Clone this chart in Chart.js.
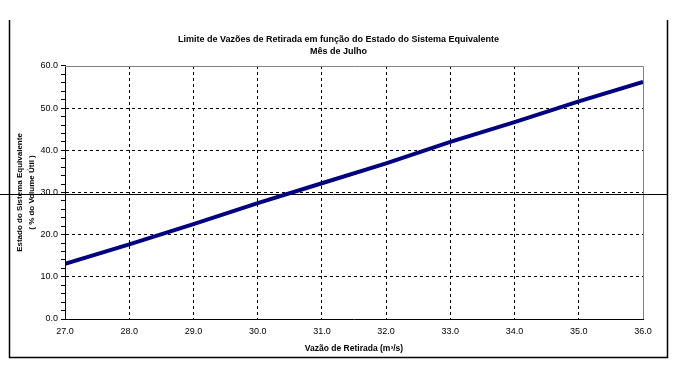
<!DOCTYPE html>
<html>
<head>
<meta charset="utf-8">
<script src="https://cdn.jsdelivr.net/npm/chart.js@4/dist/chart.umd.min.js"></script>
<style>
  html, body { margin: 0; padding: 0; background: #fff; }
  #chart { display: block; }
</style>
</head>
<body>
<canvas id="chart" width="677" height="377"></canvas>
<script>
// Data
const vazao = [27, 28, 29, 30, 31, 32, 33, 34, 35, 36];           // m3/s
const estado = [13.1, 17.7, 22.5, 27.5, 32.2, 36.9, 42.0, 46.7, 51.6, 56.2]; // % volume util
const xMin = 27, xMax = 36, xStep = 1;
const yMin = 0, yMax = 60, yMajor = 10, yMinor = 2;
const refLevel = 29.6; // horizontal black line across the sheet

const titleLines = ['Limite de Vazões de Retirada em função do Estado do Sistema Equivalente', 'Mês de Julho'];
const xTitle = 'Vazão de Retirada (m³/s)';
const yTitle = ['Estado do Sistema Equivalente', '( % do Volume Útil )'];

const FONT = "'Liberation Sans', Arial, sans-serif";

// frame, plot border and the reference line
const decor = {
  id: 'decor',
  beforeDatasetsDraw(chart) {
    const {ctx, chartArea: a, scales} = chart;
    ctx.save();
    ctx.lineWidth = 1;
    ctx.strokeStyle = '#808080';
    ctx.beginPath();
    ctx.moveTo(a.left, a.top + 0.5);
    ctx.lineTo(a.right + 0.5, a.top + 0.5);
    ctx.lineTo(a.right + 0.5, a.bottom);
    ctx.stroke();

    const yRef = Math.round(scales.y.getPixelForValue(refLevel)) + 0.5;
    ctx.strokeStyle = '#000';
    ctx.beginPath();
    ctx.moveTo(0, yRef);
    ctx.lineTo(667, yRef);
    ctx.stroke();
    ctx.restore();
  },
  afterDraw(chart) {
    const {ctx} = chart;
    ctx.save();
    ctx.strokeStyle = '#000';
    ctx.lineWidth = 1.5;
    ctx.beginPath();
    ctx.moveTo(9.5, 20);
    ctx.lineTo(9.5, 357.5);
    ctx.lineTo(667.5, 357.5);
    ctx.lineTo(667.5, 20);
    ctx.stroke();
    ctx.restore();
  }
};

new Chart(document.getElementById('chart'), {
  type: 'line',
  data: {
    datasets: [{
      data: vazao.map((v, i) => ({x: v, y: estado[i]})),
      borderColor: '#000080',
      borderWidth: 4,
      pointRadius: 0,
      tension: 0
    }]
  },
  options: {
    responsive: false,
    animation: false,
    events: [],
    layout: { padding: 0 },
    plugins: {
      legend: { display: false },
      tooltip: { enabled: false },
      title: {
        display: true,
        text: titleLines,
        color: '#000',
        font: { family: FONT, size: 9, weight: 'bold', lineHeight: 1.333 },
        padding: { top: 34, bottom: 8 }
      }
    },
    scales: {
      x: {
        type: 'linear',
        min: xMin, max: xMax,
        afterFit: s => { s.height = 58; },
        ticks: {
          stepSize: xStep,
          color: '#000',
          padding: 7,
          maxRotation: 0,
          autoSkip: false,
          font: { family: FONT, size: 9 },
          callback: v => v.toFixed(1)
        },
        grid: {
          drawTicks: false,
          color: c => (c.tick && (c.tick.value === xMin || c.tick.value === xMax)) ? 'rgba(0,0,0,0)' : '#000',
          lineWidth: 1
        },
        border: { display: true, color: '#000', width: 1, dash: [3, 3] },
        title: {
          display: true,
          text: xTitle,
          color: '#000',
          font: { family: FONT, size: 8.5, weight: 'bold', lineHeight: 1.2 },
          padding: { top: 0, bottom: 23 }
        }
      },
      y: {
        type: 'linear',
        min: yMin, max: yMax,
        afterFit: s => { s.width = 65; },
        ticks: {
          stepSize: yMinor,
          color: '#000',
          padding: 3,
          autoSkip: false,
          font: { family: FONT, size: 9 },
          callback: v => (v % yMajor === 0 ? v.toFixed(1) : '')
        },
        grid: {
          drawTicks: true,
          tickLength: 4,
          tickColor: '#000',
          color: c => (c.tick && c.tick.value % yMajor === 0 && c.tick.value !== yMin && c.tick.value !== yMax) ? '#000' : 'rgba(0,0,0,0)',
          lineWidth: 1
        },
        border: { display: true, color: '#000', width: 1, dash: [3, 3] },
        title: {
          display: true,
          text: yTitle,
          color: '#000',
          font: { family: FONT, size: 8, weight: 'bold', lineHeight: 1.5 },
          padding: { top: 14, bottom: 0 }
        }
      },
      yR: {
        type: 'linear',
        position: 'right',
        display: true,
        afterFit: s => { s.width = 34; },
        ticks: { display: false },
        grid: { display: false },
        border: { display: false }
      }
    }
  },
  plugins: [decor]
});
</script>
</body>
</html>
